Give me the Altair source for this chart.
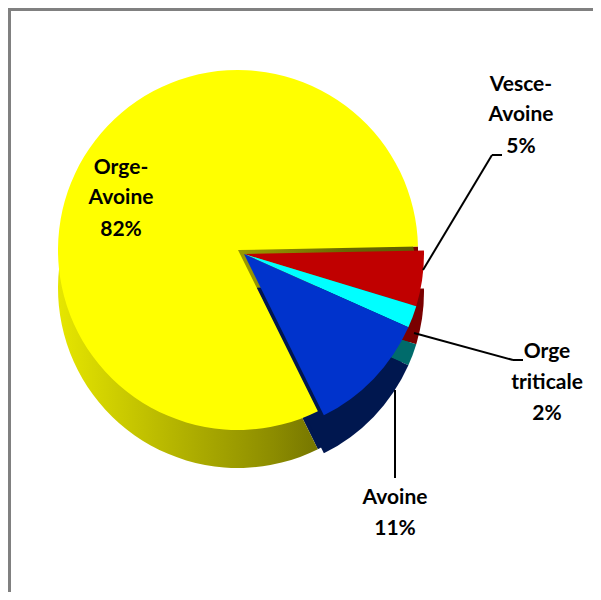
import math
import altair as alt
import pandas as pd

# ---- data ----
categories = ["Vesce-Avoine", "Orge triticale", "Avoine", "Orge-Avoine"]
values = [5, 2, 11, 82]
slice_order = [1, 2, 3, 4]

top_colors = ["#C00000", "#00FFFF", "#0033CC", "#FFFF00"]
side_colors = ["#7A0000", "#006B6B", "#00174F", "#8A8A00"]

label_lines = ["Orge-", "Avoine", "82%", "Vesce-", "Avoine", "5%",
               "Orge", "triticale", "2%", "Avoine", "11%"]

# ---- layout (pixels, chart coordinates) ----
W, H = 585, 584
CX, CY = 230, 242          # centre of the big slice
EX, EY = 6, 4              # explosion of the small slices
R = 180                    # radius
DEPTH = 38                 # thickness of the pie
START = math.pi / 2 - 0.02

label_x = [113, 113, 113, 513, 513, 513, 539, 539, 539, 387, 387]
label_y = [160, 190, 222, 77, 107, 139, 344, 375, 406, 490, 521]

leader_x = [415, 484, 484, 406, 505, 505, 387]
leader_y = [262, 147, 147, 325, 352, 352, 382]
leader_x2 = [484, 494, 494, 505, 515, 515, 387]
leader_y2 = [147, 147, 147, 352, 352, 352, 470]

pie = pd.DataFrame({"category": categories, "value": values, "order": slice_order})
labels = pd.DataFrame({"text": label_lines, "x": label_x, "y": label_y})
leaders = pd.DataFrame({"x": leader_x, "y": leader_y, "x2": leader_x2, "y2": leader_y2})
frame = pd.DataFrame({"x": [1.5, 0], "y": [0, 1.5], "x2": [1.5, W], "y2": [H, 1.5]})

theta = alt.Theta("value:Q", stack=True,
                  scale=alt.Scale(range=[START, START + 2 * math.pi]))
order = alt.Order("order:Q")
is_big = alt.datum.category == "Orge-Avoine"


def layer(cx, cy, colors, big):
    test = is_big if big else (alt.datum.category != "Orge-Avoine")
    return alt.Chart(pie).mark_arc(radius=R, stroke=None).encode(
        theta=theta,
        order=order,
        x=alt.value(cx),
        y=alt.value(cy),
        color=alt.Color("category:N", scale=alt.Scale(domain=categories, range=colors), legend=None),
        fillOpacity=alt.condition(test, alt.value(1), alt.value(0)),
    )


yellow_side = alt.Chart(pie).mark_arc(
    radius=R,
    fill=alt.Gradient(
        gradient="linear", x1=0, x2=1, y1=0, y2=0,
        stops=[
            alt.GradientStop(color="#E6E600", offset=0),
            alt.GradientStop(color="#B8B800", offset=0.3),
            alt.GradientStop(color="#8C8C00", offset=0.6),
            alt.GradientStop(color="#686800", offset=0.8),
            alt.GradientStop(color="#5E5E00", offset=1),
        ],
    ),
).encode(
    theta=theta,
    order=order,
    x=alt.value(CX),
    y=alt.value(CY + DEPTH),
    fillOpacity=alt.condition(is_big, alt.value(1), alt.value(0)),
)

small_side_back = layer(CX, CY + DEPTH, side_colors, False)
small_side_inner = layer(CX, CY, side_colors, False)
small_side = layer(CX + EX, CY + EY + DEPTH, side_colors, False)
yellow_top = layer(CX, CY, top_colors, True)
small_top = layer(CX + EX, CY + EY, top_colors, False)

leader_rules = alt.Chart(leaders).mark_rule(color="black", strokeWidth=2).encode(
    x=alt.X("x:Q", scale=None), y=alt.Y("y:Q", scale=None),
    x2="x2:Q", y2="y2:Q",
)

text = alt.Chart(labels).mark_text(
    font="Lato", fontSize=21, fontWeight="bold", color="black",
    align="center", baseline="middle",
).encode(x=alt.X("x:Q", scale=None), y=alt.Y("y:Q", scale=None), text="text:N")

border = alt.Chart(frame).mark_rule(color="#808080", strokeWidth=3).encode(
    x=alt.X("x:Q", scale=None), y=alt.Y("y:Q", scale=None),
    x2="x2:Q", y2="y2:Q",
)

chart = alt.layer(
    small_side_back, small_side, small_side_inner, yellow_side, yellow_top, small_top,
    leader_rules, text, border
).resolve_scale(color="independent").properties(
    width=W, height=H, autosize=alt.AutoSizeParams(type="none"), padding=0,
).configure_view(stroke=None).configure(background="white")

chart.save("out.html", embed_options={"renderer": "svg", "actions": False})
